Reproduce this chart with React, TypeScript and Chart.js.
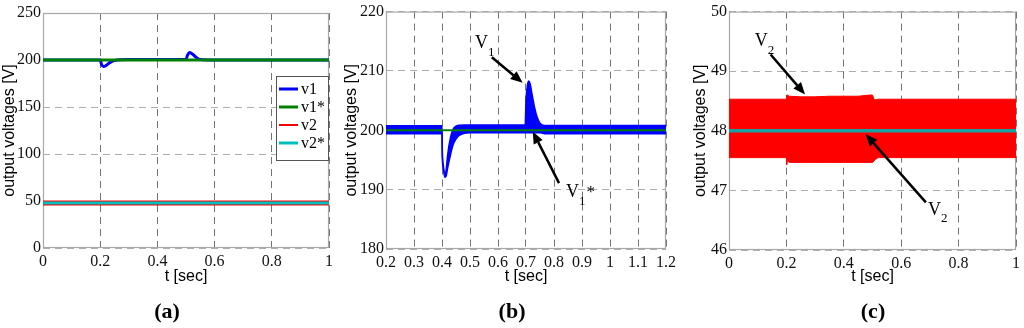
import React, { useEffect, useRef } from 'react';
import { Chart, registerables } from 'chart.js';

Chart.register(...registerables);

// ---------------- Panel (a) data ----------------
const tA = [0, 0.2, 0.205, 0.212, 0.22, 0.235, 0.25, 0.3, 0.5, 0.505, 0.512, 0.52, 0.535, 0.55, 0.6, 1];
const v1A = [200, 200, 195, 193, 194, 197.5, 199.5, 200.5, 200.5, 205, 208, 207, 203, 200.5, 200, 200];
const tRefA = [0, 1];
const v1RefA = [200, 200];
const v2A = [48, 48];
const v2RefA = [48, 48];
const legendLabelsA = ['v1', 'v1*', 'v2', 'v2*'];

// ---------------- Panel (b) data ----------------
const tB = [0.2, 0.4, 0.401, 0.405, 0.41, 0.415, 0.42, 0.43, 0.44, 0.45, 0.46, 0.48, 0.5, 0.697, 0.7, 0.705, 0.71, 0.715, 0.72, 0.73, 0.74, 0.75, 0.76, 0.77, 1.2];
const v1UpperB = [200.75, 200.75, 197, 194, 192.6, 193.4, 195.8, 198.7, 200.2, 200.7, 200.85, 200.9, 200.9, 200.9, 205, 207.6, 208.3, 207.8, 206.5, 204, 202.2, 201.2, 200.85, 200.8, 200.8];
const v1LowerB = [199.4, 199.4, 195.5, 193.5, 192.1, 192.3, 193.6, 195.8, 197.6, 198.5, 199.1, 199.5, 199.6, 199.6, 199.6, 199.6, 199.6, 199.6, 199.6, 199.6, 199.6, 199.6, 199.5, 199.4, 199.4];
const tRefB = [0.2, 1.2];
const v1RefB = [200, 200];
const calloutsB = [
  { label: 'V', sub: '1', sup: '', text: [0.518, 214.6], tail: [0.578, 212.3], head: [0.688, 208.0] },
  { label: 'V', sub: '1', sup: '*', text: [0.843, 189.5], tail: [0.818, 191.1], head: [0.724, 199.8] },
];

// ---------------- Panel (c) data ----------------
const tC = [0, 0.2, 0.201, 0.203, 0.21, 0.25, 0.3, 0.35, 0.4, 0.45, 0.49, 0.5, 0.505, 0.51, 0.52, 0.53, 1];
const v2UpperC = [48.53, 48.53, 48.6, 48.6, 48.58, 48.57, 48.57, 48.58, 48.58, 48.58, 48.6, 48.6, 48.53, 48.52, 48.53, 48.53, 48.53];
const v2LowerC = [47.55, 47.55, 47.43, 47.5, 47.47, 47.47, 47.47, 47.47, 47.47, 47.47, 47.47, 47.47, 47.49, 47.52, 47.55, 47.55, 47.55];
const tRefC = [0, 1];
const v2RefC = [48, 48];
const calloutsC = [
  { label: 'V', sub: '2', sup: '', text: [0.09, 49.5], tail: [0.145, 49.28], head: [0.265, 48.61] },
  { label: 'V', sub: '2', sup: '', text: [0.693, 46.67], tail: [0.686, 46.8], head: [0.476, 47.945] },
];

const BLUE = '#0000ff';
const GREEN = '#008000';
const RED = '#ff0000';
const CYAN = '#00bfbf';
const TEAL = 'rgb(24,160,160)';

const SERIF = "'Liberation Serif', 'Times New Roman', serif";
const SANS = "'Liberation Sans', Arial, sans-serif";

Chart.defaults.font.family = SERIF;

const pts = (xs: number[], ys: number[]) => xs.map((x, i) => ({ x, y: ys[i] }));
const fmt = (v: any) => String(Number(Number(v).toFixed(3)));

const framePlugin = {
  id: 'frame',
  beforeDatasetsDraw(chart: any) {
    const { ctx, chartArea: a } = chart;
    ctx.save();
    ctx.strokeStyle = '#a8a8a8';
    ctx.lineWidth = 1.2;
    ctx.setLineDash([]);
    ctx.strokeRect(a.left + 0.5, a.top + 0.5, a.right - a.left - 1, a.bottom - a.top - 1);
    ctx.restore();
  },
};

function calloutPlugin(items: any[]) {
  return {
    id: 'callouts',
    afterDatasetsDraw(chart: any) {
      const { ctx, scales } = chart;
      const xs = scales.x;
      const ys = scales.y;
      ctx.save();
      items.forEach((it) => {
        const tx = xs.getPixelForValue(it.tail[0]);
        const ty = ys.getPixelForValue(it.tail[1]);
        const hx = xs.getPixelForValue(it.head[0]);
        const hy = ys.getPixelForValue(it.head[1]);
        const ang = Math.atan2(hy - ty, hx - tx);
        const L = 12;
        const W = 5;
        const bx = hx - L * Math.cos(ang);
        const by = hy - L * Math.sin(ang);
        ctx.strokeStyle = '#000';
        ctx.lineWidth = 2.5;
        ctx.beginPath();
        ctx.moveTo(tx, ty);
        ctx.lineTo(bx, by);
        ctx.stroke();
        ctx.fillStyle = '#000';
        ctx.beginPath();
        ctx.moveTo(hx, hy);
        ctx.lineTo(bx + W * Math.sin(ang), by - W * Math.cos(ang));
        ctx.lineTo(bx - W * Math.sin(ang), by + W * Math.cos(ang));
        ctx.closePath();
        ctx.fill();

        const px = xs.getPixelForValue(it.text[0]);
        const py = ys.getPixelForValue(it.text[1]);
        ctx.textAlign = 'left';
        ctx.textBaseline = 'middle';
        ctx.font = `18px ${SERIF}`;
        ctx.fillText(it.label, px, py);
        const w = ctx.measureText(it.label).width;
        ctx.font = `13px ${SERIF}`;
        ctx.fillText(it.sub, px + w, py + 9);
        if (it.sup) {
          const w2 = ctx.measureText(it.sub).width;
          ctx.font = `17px ${SERIF}`;
          ctx.fillText(it.sup, px + w + w2 + 1, py);
        }
      });
      ctx.restore();
    },
  };
}

function legendPlugin(labels: string[], widths: number[]) {
  return {
    id: 'boxLegend',
    afterDraw(chart: any) {
      const { ctx, chartArea: a } = chart;
      const w = 52;
      const h = 84;
      const x0 = a.right - 1 - w;
      const y0 = a.top + 63;
      ctx.save();
      ctx.fillStyle = '#fff';
      ctx.fillRect(x0, y0, w, h);
      ctx.strokeStyle = '#555';
      ctx.lineWidth = 1;
      ctx.strokeRect(x0 + 0.5, y0 + 0.5, w, h);
      labels.forEach((lab, i) => {
        const ds = chart.data.datasets.find((d: any) => d.label === lab);
        const yy = y0 + 13 + i * 18;
        ctx.strokeStyle = ds ? ds.borderColor : '#000';
        ctx.lineWidth = widths[i];
        ctx.beginPath();
        ctx.moveTo(x0 + 3, yy);
        ctx.lineTo(x0 + 22, yy);
        ctx.stroke();
        ctx.fillStyle = '#000';
        ctx.font = `16px ${SERIF}`;
        ctx.textBaseline = 'middle';
        ctx.textAlign = 'left';
        ctx.fillText(lab, x0 + 25, yy + 1);
      });
      ctx.restore();
    },
  };
}

function scalesFor(p: any) {
  return {
    x: {
      type: 'linear',
      min: p.x[0],
      max: p.x[1],
      ticks: { stepSize: p.x[2], font: { family: SERIF, size: 16 }, color: '#111', padding: 4, autoSkip: false, maxRotation: 0, callback: fmt },
      grid: { color: 'rgba(0,0,0,0.55)', lineWidth: 1, drawTicks: false },
      border: { display: false, dash: [7, 5] },
      title: { display: true, text: 't [sec]', font: { family: SANS, size: 16 }, color: '#000', padding: 0 },
      afterFit: (s: any) => { s.height = p.xH; },
    },
    y: {
      type: 'linear',
      min: p.y[0],
      max: p.y[1],
      ticks: { stepSize: p.y[2], font: { family: SERIF, size: 16 }, color: '#111', padding: 2, autoSkip: false, callback: fmt },
      grid: { color: 'rgba(0,0,0,0.32)', lineWidth: 1, drawTicks: false },
      border: { display: false, dash: [7, 5] },
      title: { display: true, text: 'output voltages [V]', font: { family: SANS, size: 16 }, color: '#000', padding: { top: p.yTitlePad, bottom: 0 } },
      afterFit: (s: any) => { s.width = p.yW; },
    },
  };
}

function Panel(props: { left: number; width: number; make: () => any }) {
  const ref = useRef<HTMLCanvasElement>(null);
  useEffect(() => {
    const chart = new Chart(ref.current as HTMLCanvasElement, props.make());
    return () => chart.destroy();
  }, []);
  return (
    <canvas
      ref={ref}
      width={props.width}
      height={328}
      style={{ position: 'absolute', left: props.left, top: 0, width: props.width, height: 328 }}
    />
  );
}

const baseOptions = (p: any) => ({
  responsive: false,
  animation: false,
  devicePixelRatio: 1,
  layout: { padding: p.pad },
  plugins: { legend: { display: false }, tooltip: { enabled: false } },
  elements: { point: { radius: 0 } },
  scales: scalesFor(p),
});

const makeA = () => ({
  type: 'line',
  data: {
    datasets: [
      { label: 'v1', data: pts(tA, v1A), borderColor: BLUE, borderWidth: 3, cubicInterpolationMode: 'monotone', order: 3, fill: false },
      { label: 'v1*', data: pts(tRefA, v1RefA), borderColor: GREEN, borderWidth: 3, order: 2, fill: false },
      { label: 'v2', data: pts(tRefA, v2A), borderColor: RED, borderWidth: 5, order: 1, fill: false },
      { label: 'v2*', data: pts(tRefA, v2RefA), borderColor: CYAN, borderWidth: 3, order: 0, fill: false },
    ],
  },
  options: baseOptions({ pad: { left: 0, top: 13, right: 11, bottom: 42 }, yW: 43, xH: 38, yTitlePad: 0, x: [0, 1, 0.2], y: [0, 250, 50] }),
  plugins: [framePlugin, legendPlugin(legendLabelsA, [3, 3, 2, 3])],
});

const makeB = () => ({
  type: 'line',
  data: {
    datasets: [
      { label: 'v1 upper', data: pts(tB, v1UpperB), borderColor: BLUE, backgroundColor: BLUE, borderWidth: 1.5, cubicInterpolationMode: 'monotone', fill: '+1', order: 2 },
      { label: 'v1 lower', data: pts(tB, v1LowerB), borderColor: BLUE, borderWidth: 1.5, cubicInterpolationMode: 'monotone', fill: false, order: 1 },
      { label: 'v1*', data: pts(tRefB, v1RefB), borderColor: GREEN, borderWidth: 2, fill: false, order: 0 },
    ],
  },
  options: baseOptions({ pad: { left: 0, top: 10, right: 8, bottom: 42 }, yW: 46, xH: 37, yTitlePad: 2, x: [0.2, 1.2, 0.1], y: [180, 220, 10] }),
  plugins: [framePlugin, calloutPlugin(calloutsB)],
});

const makeC = () => ({
  type: 'line',
  data: {
    datasets: [
      { label: 'v2 upper', data: pts(tC, v2UpperC), borderColor: RED, backgroundColor: RED, borderWidth: 1, fill: '+1', order: 2 },
      { label: 'v2 lower', data: pts(tC, v2LowerC), borderColor: RED, borderWidth: 1, fill: false, order: 1 },
      { label: 'v2*', data: pts(tRefC, v2RefC), borderColor: TEAL, borderWidth: 3.5, fill: false, order: 0 },
    ],
  },
  options: baseOptions({ pad: { left: 0, top: 10, right: 8, bottom: 42 }, yW: 49, xH: 36, yTitlePad: 11, x: [0, 1, 0.2], y: [46, 50, 1] }),
  plugins: [framePlugin, calloutPlugin(calloutsC)],
});

const panelLabels = [
  { letter: 'a', cx: 167 },
  { letter: 'b', cx: 512 },
  { letter: 'c', cx: 873 },
];

export default function App() {
  return (
    <div style={{ position: 'fixed', left: 0, top: 0, width: 1024, height: 328, background: '#fff', overflow: 'hidden' }}>
      <Panel left={0} width={340} make={makeA} />
      <Panel left={340} width={340} make={makeB} />
      <Panel left={680} width={344} make={makeC} />
      {panelLabels.map((l) => (
        <div
          key={l.letter}
          style={{
            position: 'absolute',
            left: l.cx,
            top: 311,
            transform: 'translate(-50%, -50%)',
            fontFamily: SERIF,
            fontWeight: 'bold',
            fontSize: 22,
            lineHeight: '24px',
            color: '#000',
            whiteSpace: 'nowrap',
          }}
        >
          ({l.letter})
        </div>
      ))}
    </div>
  );
}
